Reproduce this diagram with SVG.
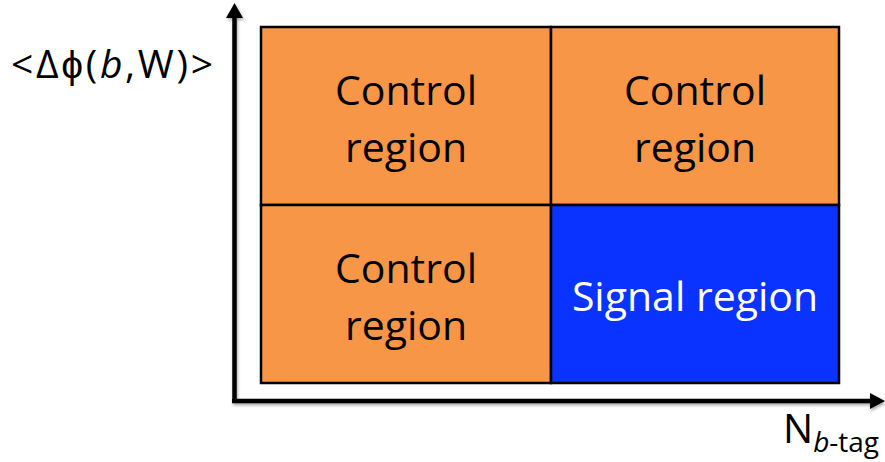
<svg xmlns="http://www.w3.org/2000/svg" width="885" height="462" viewBox="0 0 885 462">
<style>
.cell{stroke:#000;stroke-width:2.5}
.or{fill:#F79646}
.bl{fill:#0A33FF}
.t{font-family:"Open Sans","Liberation Sans",sans-serif;font-size:41px;text-anchor:middle;fill:#000}
.w{fill:#fff}
.ax{stroke:#000;stroke-width:4.5;fill:none}
</style>
<defs>
<filter id="sh" x="-5%" y="-5%" width="110%" height="110%">
<feDropShadow dx="1" dy="2" stdDeviation="1.5" flood-color="#000" flood-opacity="0.35"/>
</filter>
</defs>
<g id="cell-tl"><rect class="cell or" x="261" y="27" width="290" height="178"/><text class="t" x="406" y="105">Control</text><text class="t" x="406" y="162">region</text></g>
<g id="cell-tr"><rect class="cell or" x="551" y="27" width="288" height="178"/><text class="t" x="695" y="105">Control</text><text class="t" x="695" y="162">region</text></g>
<g id="cell-bl"><rect class="cell or" x="261" y="205" width="290" height="178"/><text class="t" x="406" y="283">Control</text><text class="t" x="406" y="340">region</text></g>
<g id="cell-br"><rect class="cell bl" x="551" y="205" width="288" height="178"/><text class="t w" x="695" y="311">Signal region</text></g>
<g id="axes" filter="url(#sh)">
<path class="ax" d="M234.5 403 V17"/>
<path d="M226 18 L234.5 3 L243 18 Z" fill="#000"/>
<path class="ax" d="M232 401 H871"/>
<path d="M870 393 L885 401 L870 409 Z" fill="#000"/>
</g>
<g id="labels">
<text x="11" y="78" font-family="Open Sans, Liberation Sans, sans-serif" font-size="39" textLength="202" lengthAdjust="spacing">&lt;Δϕ(<tspan font-style="italic">b</tspan>,W)&gt;</text>
<text x="783" y="443" font-family="Open Sans, Liberation Sans, sans-serif" font-size="40">N<tspan font-size="28" dy="9"><tspan font-style="italic">b</tspan>-tag</tspan></text>
</g>
</svg>
